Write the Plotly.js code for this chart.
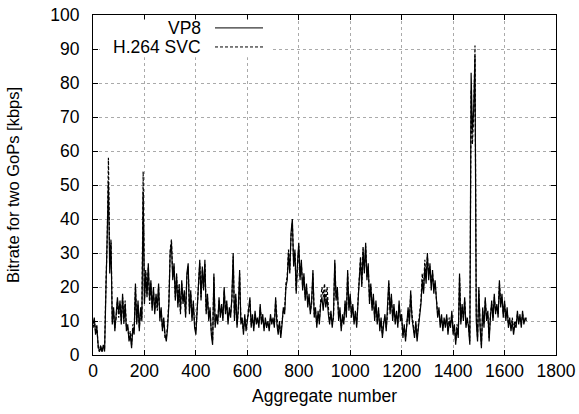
<!DOCTYPE html>
<html>
<head>
<meta charset="utf-8">
<script src="https://cdn.plot.ly/plotly-3.0.1.min.js"></script>
<style>html,body{margin:0;padding:0;background:#fff;}#chart{width:579px;height:414px;}</style>
</head>
<body>
<div id="chart"></div>
<script>
// Aggregate numbers are sampled every 5 aggregates starting at 0
const aggregateStart = 0;
const aggregateStep = 5;

const seriesNames = ["VP8", "H.264 SVC"];

const vp8 = [
  9,11,6,8,3,1,2,1,3,1,18,32,51,24,33,9,14,7,12,17,
  12,16,9,18,10,15,7,9,4,6,2,8,6,21,9,16,7,14,10,48,
  15,24,17,27,16,22,13,20,12,18,14,21,10,14,7,11,6,4,8,15,
  30,33,22,27,16,24,14,20,13,22,15,19,11,24,27,12,19,10,16,8,
  6,14,22,28,16,26,19,28,12,18,10,14,6,3,24,8,12,9,17,11,
  15,10,20,12,16,9,14,11,17,30,10,18,8,14,25,9,11,6,12,7,
  10,13,17,8,12,7,13,9,11,8,15,9,12,7,11,8,10,7,12,9,
  11,8,17,9,6,10,5,9,14,12,20,22,30,24,36,40,26,31,18,27,
  33,22,28,19,24,16,21,14,18,12,16,25,11,14,8,13,9,15,17,13,
  18,14,17,12,9,13,8,12,28,16,20,10,14,7,12,9,16,11,25,13,
  18,11,15,9,13,8,17,22,28,20,31,24,33,22,27,15,21,13,18,10,
  16,9,14,7,11,5,9,12,7,13,22,12,18,10,15,9,13,8,16,10,
  12,5,9,4,10,14,9,19,11,8,5,10,4,8,12,15,22,18,26,21,
  30,22,27,19,25,18,22,16,11,14,8,12,7,11,8,12,6,10,8,13,
  6,9,3,8,5,24,9,15,10,17,8,11,8,3,83,66,72,88,10,4,
  20,8,2,14,8,17,10,13,4,11,16,10,18,12,15,11,22,14,18,11,
  16,10,14,8,11,7,10,6,9,8,13,9,12,8,13,9,11,10
];

const h264svc = [
  8,10,7,9,2,1,3,1,2,2,20,33,58,28,34,10,13,8,11,16,
  11,15,10,17,9,16,8,8,5,7,3,9,7,20,10,15,8,13,11,54,
  16,25,18,26,15,21,14,19,13,17,13,20,11,13,8,10,5,5,9,16,
  31,34,23,26,17,23,15,21,12,21,16,18,12,23,26,13,18,11,15,9,
  7,13,21,27,17,25,20,27,13,17,11,13,7,4,23,9,11,10,16,12,
  14,11,19,13,15,10,13,12,16,29,11,17,9,13,24,10,10,7,11,8,
  11,12,16,9,11,8,12,10,10,9,14,10,11,8,10,9,9,8,11,10,
  10,9,16,10,7,9,6,10,13,13,21,23,31,25,35,39,27,30,19,26,
  32,23,27,20,23,17,20,15,17,13,15,24,12,13,9,12,10,16,20,17,
  21,16,20,14,10,12,9,11,27,17,19,11,13,8,11,10,15,12,24,14,
  17,12,14,10,12,9,16,23,29,21,32,25,32,23,26,16,20,14,17,11,
  15,10,13,8,10,6,10,11,8,12,21,13,17,11,14,10,12,9,15,11,
  11,6,8,5,9,13,10,18,12,9,6,9,5,9,13,16,24,19,28,23,
  29,24,26,21,24,20,21,17,12,13,9,11,8,10,9,11,7,11,9,12,
  7,8,4,9,6,23,10,14,11,16,9,10,9,4,78,62,70,91,12,5,
  19,9,3,13,9,16,11,12,5,12,15,11,17,13,14,12,21,15,17,12,
  15,11,13,9,10,8,11,7,10,9,12,10,11,9,12,10,10,11
];

const xTickVals = [0,200,400,600,800,1000,1200,1400,1600,1800];
const yTickVals = [0,10,20,30,40,50,60,70,80,90,100];

const xTitle = "Aggregate number";
const yTitle = "Bitrate for two GoPs [kbps]";

const agg = vp8.map((_, i) => aggregateStart + i * aggregateStep);

const FONT = "Liberation Sans, Arial, Helvetica, sans-serif";
const HSIZE = 17.5; // horizontal texts
const VSIZE = 16.5; // rotated y title

const traces = [
  {x: agg, y: vp8, name: seriesNames[0], type: "scatter", mode: "lines",
   line: {color: "#000", width: 1.2}},
  {x: agg, y: h264svc, name: seriesNames[1], type: "scatter", mode: "lines",
   line: {color: "#000", width: 1.2, dash: "3px,2px"}}
];

const axisCommon = {
  showline: true, linecolor: "#000", linewidth: 1, mirror: "allticks",
  ticks: "inside", ticklen: 5, tickwidth: 1, tickcolor: "#000",
  showgrid: true, gridcolor: "#aaa", gridwidth: 1, griddash: "dot",
  zeroline: false, tickfont: {family: FONT, size: HSIZE, color: "#000"},
  automargin: false
};

// Legend drawn gnuplot-style: label on the left, sample line on the right
const legX0 = 0.015, legX1 = 0.388, legY0 = 0.876, legY1 = 0.987;
const rowY = [0.962, 0.906];
const textRight = 0.238, sampleX0 = 0.2635, sampleX1 = 0.3672;

const layout = {
  width: 579, height: 414,
  margin: {l: 93, r: 23, t: 15, b: 59},
  paper_bgcolor: "#fff", plot_bgcolor: "#fff",
  showlegend: false,
  font: {family: FONT, size: HSIZE, color: "#000"},
  xaxis: Object.assign({}, axisCommon, {
    range: [0, 1800], tickvals: xTickVals, ticklabelstandoff: 0,
    title: {text: xTitle, font: {family: FONT, size: HSIZE}, standoff: 9}
  }),
  yaxis: Object.assign({}, axisCommon, {
    range: [0, 100], tickvals: yTickVals, ticklabelstandoff: 9,
    title: {text: yTitle, font: {family: FONT, size: VSIZE}, standoff: 26}
  }),
  shapes: [
    {type: "rect", xref: "paper", yref: "paper", x0: legX0, x1: legX1, y0: legY0, y1: legY1,
     fillcolor: "#fff", line: {width: 0}, layer: "above"},
    {type: "line", xref: "paper", yref: "paper", x0: sampleX0, x1: sampleX1, y0: rowY[0], y1: rowY[0],
     line: {color: "#000", width: 1}, layer: "above"},
    {type: "line", xref: "paper", yref: "paper", x0: sampleX0, x1: sampleX1, y0: rowY[1], y1: rowY[1],
     line: {color: "#000", width: 1, dash: "3px,2px"}, layer: "above"}
  ],
  annotations: seriesNames.map((n, i) => ({
    text: n, xref: "paper", yref: "paper", x: textRight, y: rowY[i],
    xanchor: "right", yanchor: "middle", showarrow: false,
    font: {family: FONT, size: HSIZE, color: "#000"}
  }))
};

Plotly.newPlot("chart", traces, layout, {displayModeBar: false, staticPlot: true});
</script>
</body>
</html>
